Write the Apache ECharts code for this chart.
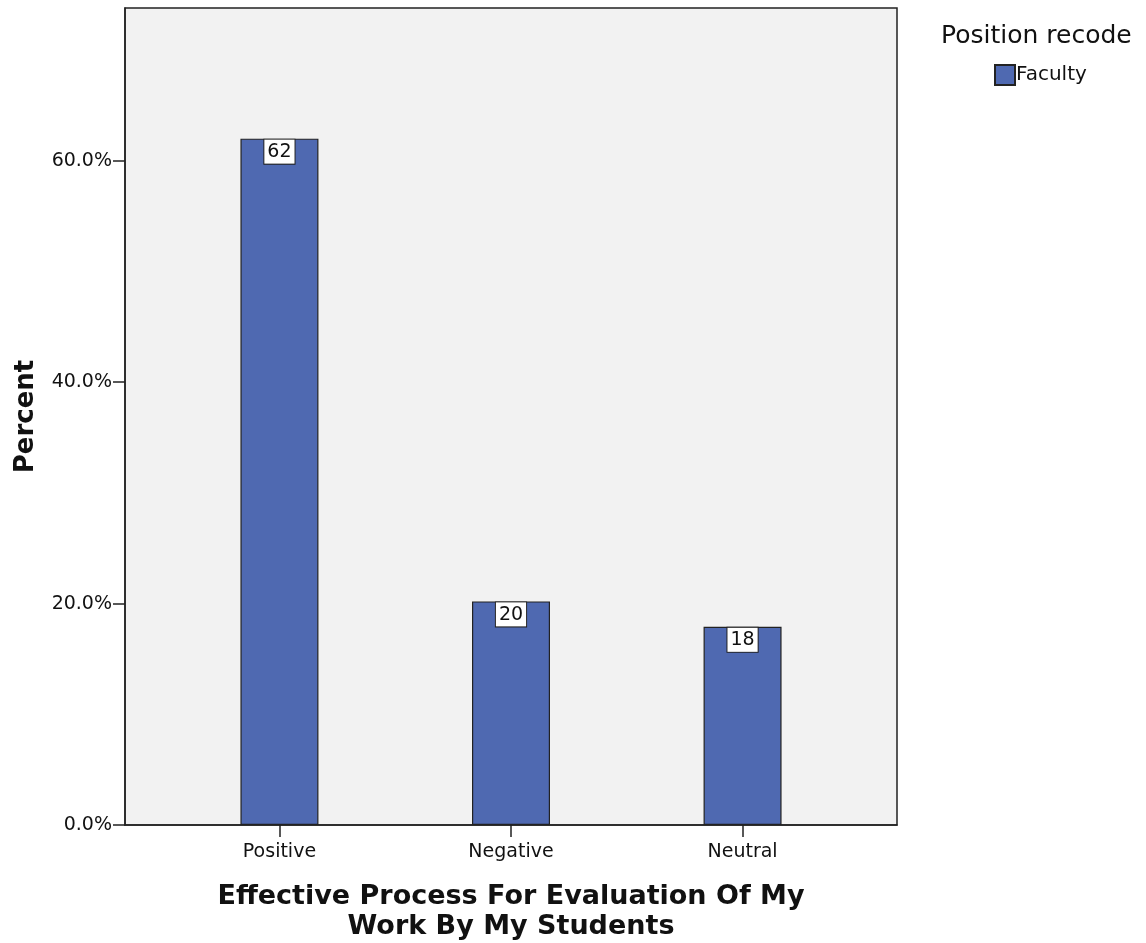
<!DOCTYPE html>
<html>
<head>
<meta charset="utf-8">
<script src="https://cdn.jsdelivr.net/npm/echarts@6/dist/echarts.min.js"></script>
<style>
  html, body { margin: 0; padding: 0; background: #fff; }
  #chart { width: 1146px; height: 943px; }
</style>
</head>
<body>
<div id="chart"></div>
<script>
// Bar chart: effective process for evaluation, faculty only

const categories = ['Positive', 'Negative', 'Neutral'];
const percentValues = [62, 20.2, 17.9];
const countLabels = ['62', '20', '18'];
const yTicks = [0, 20, 40, 60];

const FONT = 'DejaVu Sans';

const chart = echarts.init(document.getElementById('chart'));

const option = {
    animation: false,
    backgroundColor: '#ffffff',
    textStyle: { fontFamily: FONT },
    graphic: [
        {
            type: 'text',
            left: 941,
            top: 24,
            style: {
                text: 'Position recode',
                fontSize: 25,
                fontFamily: FONT,
                fill: '#111'
            }
        }
    ],
    legend: {
        data: ['Faculty'],
        left: 989,
        top: 59,
        icon: 'rect',
        itemWidth: 20,
        itemHeight: 20,
        itemGap: 4,
        textStyle: { fontSize: 20, color: '#111', fontFamily: FONT, padding: [0, 0, 0, -4] }
    },
    grid: {
        left: 125,
        right: 249,
        top: 8,
        bottom: 118,
        outerBoundsMode: 'none',
        containLabel: false,
        show: true,
        backgroundColor: '#f2f2f2',
        borderColor: '#222',
        borderWidth: 1.5
    },
    xAxis: {
        type: 'value',
        min: 1 - 0.667,
        max: 3 + 0.667,
        name: 'Effective Process For Evaluation Of My\nWork By My Students',
        nameLocation: 'middle',
        nameGap: 57,
        nameTextStyle: {
            fontSize: 27,
            fontWeight: 'bold',
            color: '#111',
            lineHeight: 30,
            fontFamily: FONT
        },
        axisLine: { show: true, lineStyle: { color: '#222', width: 1.5 } },
        axisTick: {
            show: true,
            length: 12,
            customValues: [1, 2, 3],
            lineStyle: { color: '#222', width: 1.5 }
        },
        axisLabel: {
            customValues: [1, 2, 3],
            formatter: (v) => categories[Math.round(v) - 1] || '',
            fontSize: 19,
            color: '#111',
            margin: 18,
            fontFamily: FONT
        },
        splitLine: { show: false }
    },
    yAxis: {
        type: 'value',
        min: 0,
        max: 73.8,
        name: 'Percent',
        nameLocation: 'middle',
        nameRotate: 90,
        nameGap: 86,
        nameTextStyle: {
            fontSize: 26,
            fontWeight: 'bold',
            color: '#111',
            fontFamily: FONT
        },
        axisLine: { show: true, lineStyle: { color: '#222', width: 1.5 } },
        axisTick: {
            show: true,
            length: 12,
            customValues: yTicks,
            lineStyle: { color: '#222', width: 1.5 }
        },
        axisLabel: {
            customValues: yTicks,
            formatter: (v) => v.toFixed(1) + '%',
            fontSize: 19,
            color: '#111',
            margin: 13,
            fontFamily: FONT
        },
        splitLine: { show: false }
    },
    series: [
        {
            name: 'Faculty',
            type: 'bar',
            barWidth: 78,
            data: percentValues.map((v, i) => [i + 1, v]),
            itemStyle: {
                color: '#4f69b1',
                borderColor: '#222',
                borderWidth: 1.2
            },
            label: {
                show: true,
                position: 'insideTop',
                distance: 1,
                formatter: (p) => countLabels[p.dataIndex],
                fontSize: 19,
                color: '#111',
                backgroundColor: '#ffffff',
                borderColor: '#222',
                borderWidth: 1,
                padding: [3, 3, 2, 3],
                fontFamily: FONT
            }
        }
    ]
};

chart.setOption(option);
</script>
</body>
</html>
